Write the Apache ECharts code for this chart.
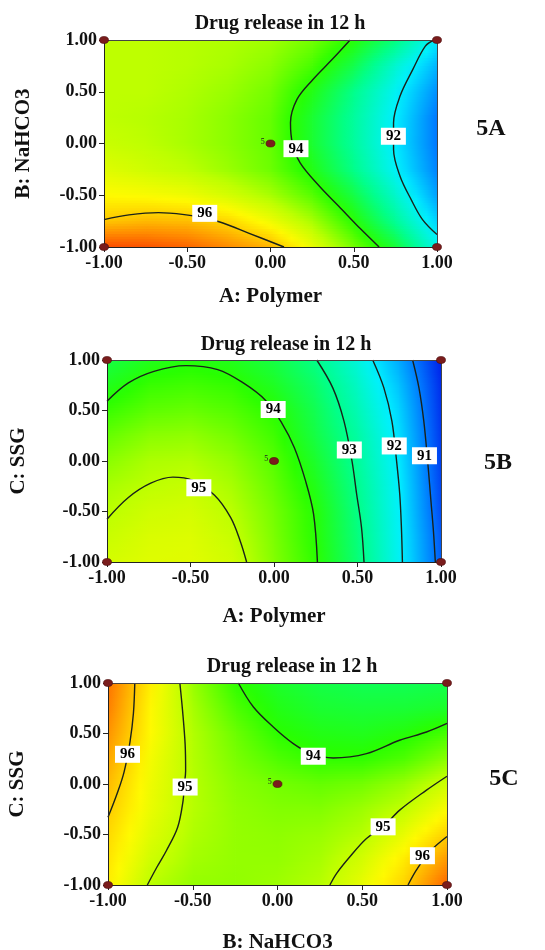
<!DOCTYPE html>
<html><head><meta charset="utf-8">
<script src="https://cdn.jsdelivr.net/npm/echarts@6/dist/echarts.min.js"></script>
<style>html,body{margin:0;padding:0;background:#fff}#c{width:545px;height:950px}</style>
</head><body><div id="c"></div><script>
// ---------- data ----------
const nodes = [-1, -0.75, -0.5, -0.25, 0, 0.25, 0.5, 0.75, 1];
const tickStep = 0.5;
const titles = ['Drug release in 12 h', 'Drug release in 12 h', 'Drug release in 12 h'];
const panelTags = ['5A', '5B', '5C'];
const xNames = ['A: Polymer', 'A: Polymer', 'B: NaHCO3'];
const yNames = ['B: NaHCO3', 'C: SSG', 'C: SSG'];

// response values read at grid nodes; rows from y=1 (top) down to y=-1, columns x=-1..1
const surfA = [
  [95.0, 95.0, 94.95, 94.9, 94.8, 94.5, 93.95, 93.1, 91.95],
  [95.0, 95.0, 94.95, 94.85, 94.65, 94.2, 93.45, 92.4, 91.5],
  [95.0, 95.0, 94.9, 94.75, 94.5, 93.85, 93.0, 92.1, 91.2],
  [95.0, 94.95, 94.85, 94.65, 94.4, 93.65, 92.85, 91.98, 91.0],
  [95.1, 95.0, 94.85, 94.65, 94.4, 93.65, 92.85, 91.95, 91.0],
  [95.3, 95.15, 95.0, 94.75, 94.45, 93.85, 93.0, 92.05, 91.1],
  [95.6, 95.55, 95.45, 95.2, 94.85, 94.3, 93.5, 92.45, 91.35],
  [96.05, 96.15, 96.12, 95.9, 95.45, 94.85, 93.98, 92.9, 91.75],
  [97.0, 96.95, 96.8, 96.5, 96.2, 95.4, 94.5, 93.6, 92.2]
];
const surfB = [
  [93.5, 93.8, 93.9, 93.8, 93.5, 93.02, 92.3, 91.4, 90.3],
  [93.8, 94.1, 94.17, 94.07, 93.75, 93.25, 92.5, 91.6, 90.4],
  [94.1, 94.35, 94.42, 94.28, 94.0, 93.4, 92.65, 91.75, 90.45],
  [94.4, 94.65, 94.7, 94.5, 94.15, 93.5, 92.8, 91.85, 90.5],
  [94.65, 94.88, 94.92, 94.7, 94.3, 93.67, 92.88, 91.93, 90.55],
  [94.85, 95.0, 95.08, 94.85, 94.4, 93.82, 92.97, 91.99, 90.6],
  [94.97, 95.15, 95.2, 94.97, 94.5, 93.95, 93.04, 92.02, 90.65],
  [95.1, 95.25, 95.28, 95.08, 94.55, 93.97, 93.1, 92.05, 90.75],
  [95.2, 95.3, 95.32, 95.17, 94.6, 94.03, 93.15, 92.08, 90.8]
];
const surfC = [
  [96.7, 95.7, 94.75, 94.05, 93.7, 93.5, 93.4, 93.4, 93.45],
  [96.6, 95.62, 94.85, 94.25, 93.85, 93.65, 93.6, 93.62, 93.7],
  [96.45, 95.6, 94.92, 94.45, 94.02, 93.85, 93.8, 93.93, 94.2],
  [96.3, 95.5, 94.93, 94.55, 94.25, 94.05, 94.05, 94.25, 94.65],
  [96.15, 95.45, 94.95, 94.65, 94.5, 94.4, 94.5, 94.75, 95.15],
  [96.02, 95.4, 94.95, 94.7, 94.6, 94.6, 94.78, 95.05, 95.55],
  [95.9, 95.3, 94.9, 94.72, 94.68, 94.75, 94.95, 95.4, 95.97],
  [95.8, 95.15, 94.82, 94.72, 94.72, 94.85, 95.2, 95.75, 96.4],
  [95.7, 94.97, 94.72, 94.7, 94.78, 94.95, 95.4, 95.97, 96.8]
];

// contour lines
const contoursA = [
  [[-1, -0.735], [-0.85, -0.69], [-0.673, -0.668], [-0.518, -0.687], [-0.4, -0.72], [-0.286, -0.768], [-0.132, -0.865], [0.081, -1]],
  [[0.478, 1], [0.371, 0.813], [0.255, 0.619], [0.159, 0.426], [0.12, 0.2], [0.132, 0.0], [0.178, -0.187], [0.294, -0.413], [0.41, -0.606], [0.545, -0.832], [0.652, -1]],
  [[0.982, 1], [0.93, 0.94], [0.855, 0.716], [0.778, 0.458], [0.739, 0.2], [0.739, -0.058], [0.778, -0.316], [0.845, -0.542], [0.913, -0.735], [1, -0.88]]
];
const contoursB = [
  [[-1, -0.576], [-0.872, -0.362], [-0.738, -0.22], [-0.605, -0.16], [-0.49, -0.19], [-0.356, -0.34], [-0.26, -0.559], [-0.203, -0.789], [-0.164, -1]],
  [[-1, 0.592], [-0.872, 0.773], [-0.719, 0.888], [-0.528, 0.944], [-0.337, 0.905], [-0.184, 0.773], [-0.05, 0.6], [0.046, 0.378], [0.122, 0.132], [0.189, -0.197], [0.237, -0.526], [0.26, -1]],
  [[0.256, 1], [0.352, 0.724], [0.419, 0.395], [0.467, 0], [0.495, -0.329], [0.524, -0.658], [0.539, -1]],
  [[0.591, 1], [0.658, 0.724], [0.706, 0.395], [0.734, 0], [0.753, -0.329], [0.763, -0.658], [0.769, -1]],
  [[0.83, 1], [0.868, 0.724], [0.897, 0.395], [0.92, 0], [0.94, -0.4], [0.955, -0.7], [0.966, -1]]
];
const contoursC = [
  [[-0.842, 1], [-0.85, 0.7], [-0.87, 0.42], [-0.905, 0.12], [-0.945, -0.09], [-1, -0.33]],
  [[-0.576, 1], [-0.56, 0.724], [-0.545, 0.395], [-0.542, 0.132], [-0.551, -0.026], [-0.557, -0.164], [-0.589, -0.428], [-0.655, -0.658], [-0.711, -0.822], [-0.768, -1]],
  [[-0.231, 1], [-0.142, 0.762], [-0.025, 0.564], [0.093, 0.4], [0.2, 0.3], [0.329, 0.258], [0.525, 0.301], [0.72, 0.433], [0.879, 0.515], [1, 0.6]],
  [[1, 0.077], [0.879, -0.061], [0.721, -0.259], [0.623, -0.424], [0.525, -0.539], [0.427, -0.72], [0.349, -0.884], [0.309, -1]],
  [[1, -0.52], [0.898, -0.67], [0.82, -0.85], [0.77, -1]]
];
const labelsA = [[0.153, -0.05, '94'], [0.738, 0.07, '92'], [-0.395, -0.675, '96']];
const labelsB = [[-0.005, 0.51, '94'], [0.451, 0.109, '93'], [0.72, 0.149, '92'], [0.901, 0.052, '91'], [-0.45, -0.265, '95']];
const labelsC = [[-0.885, 0.294, '96'], [-0.545, -0.03, '95'], [0.211, 0.275, '94'], [0.623, -0.424, '95'], [0.855, -0.71, '96']];

const designPts = [[-1, 1], [1, 1], [-1, -1], [1, -1], [0, 0]];
const centerReps = '5';

// colour scale of the response
const colorScale = [
  [90.2, [0, 20, 230]], [91.0, [0, 120, 255]], [92.0, [0, 240, 255]], [93.0, [0, 255, 140]],
  [94.0, [40, 255, 0]], [95.0, [190, 255, 0]], [95.6, [255, 250, 0]], [96.0, [255, 205, 0]],
  [96.5, [255, 140, 0]], [97.2, [250, 50, 0]]
];

// ---------- rendering ----------
function colorOf(v) {
  const s = colorScale;
  if (v <= s[0][0]) return 'rgb(' + s[0][1].join(',') + ')';
  for (let k = 1; k < s.length; k++) {
    if (v <= s[k][0]) {
      const t = (v - s[k - 1][0]) / (s[k][0] - s[k - 1][0]);
      const a = s[k - 1][1], b = s[k][1];
      return 'rgb(' + [0, 1, 2].map(m => Math.round(a[m] + (b[m] - a[m]) * t)).join(',') + ')';
    }
  }
  return 'rgb(' + s[s.length - 1][1].join(',') + ')';
}

const n = nodes.length;
function surfData(surf) {
  const out = [];
  for (let r = 0; r < n; r++) for (let i = 0; i < n; i++) out.push([nodes[i], nodes[n - 1 - r], surf[r][i], i, r]);
  return out;
}
function makeRender(surf) {
  return function (params, api) {
    const i = api.value(3), r = api.value(4);
    if (i >= n - 1 || r >= n - 1) return null;
    const pTL = api.coord([nodes[i], nodes[n - 1 - r]]);
    const pBR = api.coord([nodes[i + 1], nodes[n - 2 - r]]);
    const vTL = surf[r][i], vTR = surf[r][i + 1], vBL = surf[r + 1][i], vBR = surf[r + 1][i + 1];
    const S = 10, children = [];
    const h = (pBR[1] - pTL[1]) / S, w = pBR[0] - pTL[0];
    const extW = i < n - 2 ? 0.8 : 0;
    for (let s = 0; s < S; s++) {
      const t = (s + 0.5) / S;
      const vl = vTL + (vBL - vTL) * t, vr = vTR + (vBR - vTR) * t;
      const stops = [];
      for (let k = 0; k <= 4; k++) { const u = k / 4; stops.push({ offset: u, color: colorOf(vl + (vr - vl) * u) }); }
      const extH = (r < n - 2 || s < S - 1) ? 0.8 : 0;
      children.push({ type: 'rect', shape: { x: pTL[0], y: pTL[1] + s * h, width: w + extW, height: h + extH },
        style: { fill: { type: 'linear', x: 0, y: 0, x2: 1, y2: 0, colorStops: stops } } });
    }
    return { type: 'group', children };
  };
}

const FONT = "'Liberation Serif', 'Times New Roman', serif";
const grids = [
  { left: 104, top: 40, width: 333, height: 207, outerBoundsMode: 'none', containLabel: false },
  { left: 107, top: 360, width: 334, height: 202, outerBoundsMode: 'none', containLabel: false },
  { left: 108, top: 683, width: 339, height: 202, outerBoundsMode: 'none', containLabel: false }
];
const xNameGaps = [39, 44, 47];
const yNameGaps = [70, 78, 80];
const surfs = [surfA, surfB, surfC];
const contours = [contoursA, contoursB, contoursC];
const labels = [labelsA, labelsB, labelsC];

const xAxis = [], yAxis = [], series = [];
grids.forEach((g, k) => {
  const common = { gridIndex: k, type: 'value', min: -1, max: 1, interval: tickStep, splitLine: { show: false }, z: 6 };
  xAxis.push(Object.assign({}, common, {
    position: 'bottom', name: xNames[k], nameLocation: 'middle', nameGap: xNameGaps[k],
    nameTextStyle: { fontFamily: FONT, fontWeight: 'bold', fontSize: 21, color: '#111' },
    axisLine: { show: true, onZero: false, lineStyle: { color: '#222', width: 1 } },
    axisTick: { show: true, length: 5, lineStyle: { color: '#222' } },
    axisLabel: { formatter: v => v.toFixed(2), fontFamily: FONT, fontWeight: 'bold', fontSize: 18, color: '#111', margin: 7 }
  }));
  xAxis.push(Object.assign({}, common, {
    position: 'top', axisLine: { show: true, onZero: false, lineStyle: { color: '#444', width: 1 } },
    axisTick: { show: false }, axisLabel: { show: false }
  }));
  yAxis.push(Object.assign({}, common, {
    position: 'left', name: yNames[k], nameLocation: 'middle', nameGap: yNameGaps[k], nameRotate: 90,
    nameTextStyle: { fontFamily: FONT, fontWeight: 'bold', fontSize: 21, color: '#111' },
    axisLine: { show: true, onZero: false, lineStyle: { color: '#222', width: 1 } },
    axisTick: { show: true, length: 5, lineStyle: { color: '#222' } },
    axisLabel: { formatter: v => v.toFixed(2), fontFamily: FONT, fontWeight: 'bold', fontSize: 18, color: '#111', margin: 7 }
  }));
  yAxis.push(Object.assign({}, common, {
    position: 'right', axisLine: { show: true, onZero: false, lineStyle: { color: '#444', width: 1 } },
    axisTick: { show: false }, axisLabel: { show: false }
  }));
  const xi = 2 * k, yi = 2 * k;
  series.push({
    type: 'custom', xAxisIndex: xi, yAxisIndex: yi, renderItem: makeRender(surfs[k]),
    data: surfData(surfs[k]), encode: { x: 0, y: 1 }, z: 1, silent: true, clip: true
  });
  contours[k].forEach(line => series.push({
    type: 'line', xAxisIndex: xi, yAxisIndex: yi, data: line, smooth: 0.35, symbol: 'none',
    lineStyle: { color: '#1a221a', width: 1.4 }, z: 3, silent: true
  }));
  series.push({
    type: 'scatter', xAxisIndex: xi, yAxisIndex: yi, data: labels[k], symbol: 'rect', symbolSize: [25, 17],
    itemStyle: { color: '#ffffff', opacity: 1 }, z: 4, silent: true,
    label: { show: true, position: 'inside', formatter: p => p.value[2], fontFamily: FONT, fontWeight: 'bold', fontSize: 15, color: '#000' }
  });
  series.push({
    type: 'scatter', xAxisIndex: xi, yAxisIndex: yi, symbol: 'circle', symbolSize: [9, 7], clip: false,
    itemStyle: { color: '#7a1c1c', borderColor: '#4a0c0c', borderWidth: 0.6, opacity: 1 }, z: 7, silent: true,
    data: designPts.map(p => (p[0] === 0 && p[1] === 0)
      ? { value: p, label: { show: true, formatter: centerReps, position: 'left', distance: 1, fontSize: 8, color: '#222', fontFamily: FONT, offset: [0, -2] } }
      : { value: p })
  });
});

const titlePos = [[280, 24], [286, 345], [292, 667]];
const tagPos = [[491, 129], [498, 463], [504, 779]];
const graphic = [];
titlePos.forEach((p, k) => graphic.push({ type: 'text', x: p[0], y: p[1], style: { text: titles[k], align: 'center', verticalAlign: 'middle', font: "bold 20px 'Liberation Serif', serif", fill: '#111' } }));
tagPos.forEach((p, k) => graphic.push({ type: 'text', x: p[0], y: p[1], style: { text: panelTags[k], align: 'center', verticalAlign: 'middle', font: "bold 24px 'Liberation Serif', serif", fill: '#111' } }));

const chart = echarts.init(document.getElementById('c'), null, { renderer: 'canvas' });
chart.setOption({ animation: false, backgroundColor: '#fff', grid: grids, xAxis, yAxis, series, graphic });
</script></body></html>
